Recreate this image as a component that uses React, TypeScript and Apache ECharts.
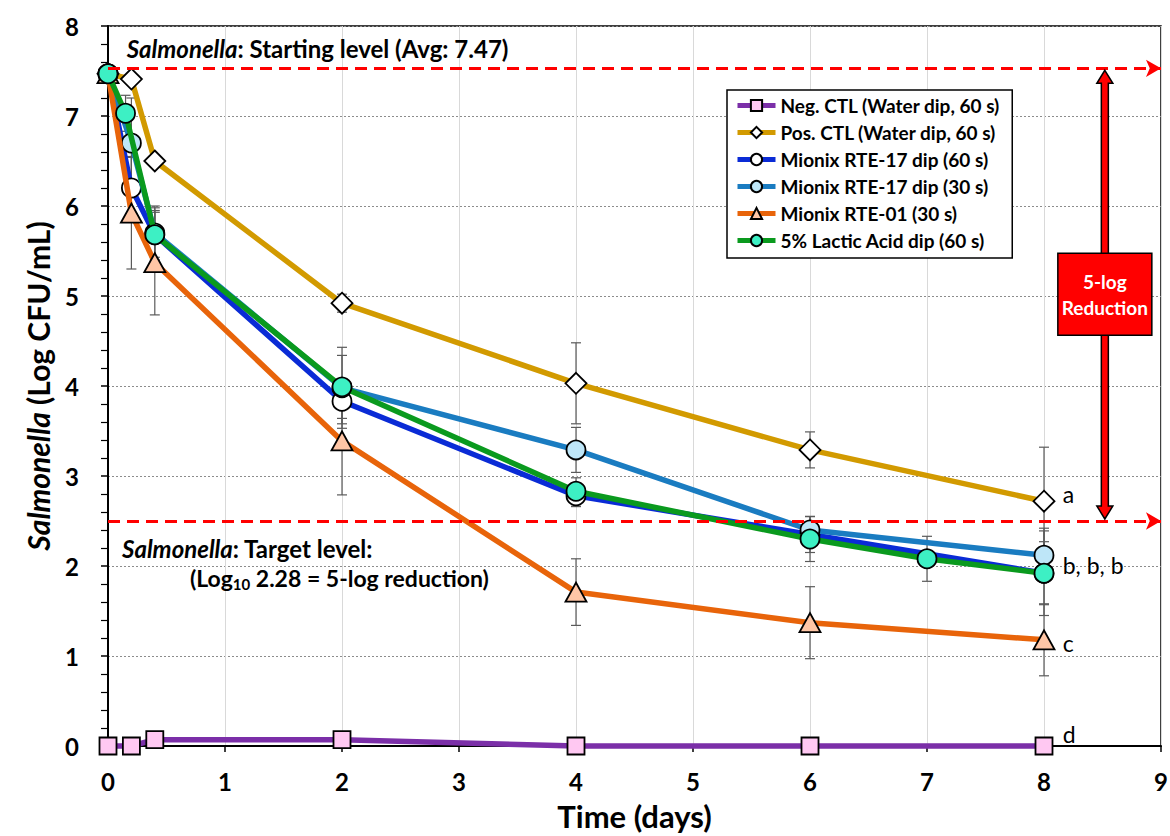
import React, { useEffect, useRef } from "react";
import * as echarts from "echarts";

// ---- data ----
const timeMain = [0, 0.2, 0.4, 2, 4, 6, 8];
const negCtl = [0, 0, 0.07, 0.07, 0, 0, 0];
const negErr = [0, 0, 0, 0, 0, 0, 0];
const posCtl = [7.47, 7.41, 6.5, 4.92, 4.03, 3.29, 2.72];
const posErr = [0, 0.05, 0.05, 0.1, 0.45, 0.2, 0.6];
const rte17s60 = [7.47, 6.2, 5.68, 3.83, 2.78, 2.35, 1.92];
const rte17s60Err = [0, 0.35, 0.3, 0.25, 0.12, 0.2, 0.47];
const rte17s30 = [7.47, 6.7, 5.7, 3.98, 3.29, 2.4, 2.12];
const rte17s30Err = [0, 0.5, 0.3, 0.45, 0.25, 0.15, 0.3];
const rte01 = [7.47, 5.92, 5.37, 3.39, 1.71, 1.37, 1.18];
const rte01Err = [0, 0.62, 0.58, 0.6, 0.37, 0.4, 0.4];
const timeLactic = [0, 0.15, 0.4, 2, 4, 6, 7, 8];
const lactic = [7.47, 7.03, 5.68, 3.99, 2.83, 2.3, 2.08, 1.92];
const lacticErr = [0, 0.2, 0.25, 0.35, 0.15, 0.25, 0.25, 0.35];

const startLevel = 7.53;
const targetLevel = 2.5;
const sigLetters = ["a", "b, b, b", "c", "d"];
const sigLetterY = [2.8, 2.01, 1.14, 0.13];

const FONT = "Lato, 'Open Sans', sans-serif";

type SeriesDef = {
  name: string;
  xs: number[];
  ys: number[];
  err: number[];
  line: string;
  fill: string;
  symbol: string;
  size: number | number[];
};

const seriesDefs: SeriesDef[] = [
  { name: "Neg. CTL (Water dip, 60 s)", xs: timeMain, ys: negCtl, err: negErr, line: "#7B2FA8", fill: "#FFC8F2", symbol: "rect", size: 17 },
  { name: "Pos. CTL (Water dip, 60 s)", xs: timeMain, ys: posCtl, err: posErr, line: "#D29A00", fill: "#FFFFFF", symbol: "diamond", size: 21 },
  { name: "Mionix RTE-17 dip (60 s)", xs: timeMain, ys: rte17s60, err: rte17s60Err, line: "#0A2BD6", fill: "#FFFFFF", symbol: "circle", size: 19 },
  { name: "Mionix RTE-17 dip (30 s)", xs: timeMain, ys: rte17s30, err: rte17s30Err, line: "#1A7CC1", fill: "#BEE6F8", symbol: "circle", size: 19 },
  { name: "Mionix RTE-01 (30 s)", xs: timeMain, ys: rte01, err: rte01Err, line: "#E8640A", fill: "#FFC6A6", symbol: "triangle", size: [21, 19] },
  { name: "5% Lactic Acid dip (60 s)", xs: timeLactic, ys: lactic, err: lacticErr, line: "#0A9A1E", fill: "#3DF0C4", symbol: "circle", size: 19 },
];

export default function App() {
  const ref = useRef<HTMLDivElement>(null);

  useEffect(() => {
    if (!ref.current) return;
    const chart = echarts.init(ref.current, undefined, { renderer: "svg" });

    const errSeries = seriesDefs.map((s) => ({
      type: "custom",
      name: s.name + " err",
      z: 1,
      silent: true,
      clip: false,
      data: s.xs.map((x, i) => [x, s.ys[i], s.err[i]]),
      renderItem: (_p: any, api: any) => {
        const x = api.value(0);
        const y = api.value(1);
        const e = api.value(2);
        if (!e) return null;
        const top = api.coord([x, y + e]);
        const bot = api.coord([x, y - e]);
        const w = 5;
        const st = { stroke: "#5A5A5A", lineWidth: 1.2 };
        return {
          type: "group",
          children: [
            { type: "line", shape: { x1: top[0], y1: top[1], x2: bot[0], y2: bot[1] }, style: st },
            { type: "line", shape: { x1: top[0] - w, y1: top[1], x2: top[0] + w, y2: top[1] }, style: st },
            { type: "line", shape: { x1: bot[0] - w, y1: bot[1], x2: bot[0] + w, y2: bot[1] }, style: st },
          ],
        };
      },
    }));

    const lineSeries = seriesDefs.map((s, k) => ({
      type: "line",
      name: s.name,
      z: 3 + k,
      clip: false,
      data: s.xs.map((x, i) => [x, s.ys[i]]),
      symbol: s.symbol,
      symbolSize: s.size,
      showAllSymbol: true,
      lineStyle: { color: s.line, width: 5.5 },
      itemStyle: { color: s.fill, borderColor: "#000", borderWidth: 1.8 },
      emphasis: { disabled: true },
      ...(k === 0
        ? {
            markLine: {
              silent: true,
              symbol: ["none", "arrow"],
              symbolSize: [13, 15],
              label: { show: false },
              lineStyle: { color: "#FF0000", width: 3, type: [12, 7] },
              data: [{ yAxis: startLevel }, { yAxis: targetLevel }],
              z: 20,
            },
          }
        : {}),
    }));

    const option: any = {
      animation: false,
      backgroundColor: "#fff",
      grid: {
        left: 108,
        top: 26,
        right: 9,
        bottom: 90,
        show: true,
        borderColor: "#000",
        borderWidth: 1.5,
        backgroundColor: "transparent",
        containLabel: false,
        outerBoundsMode: "none",
      },
      legend: {
        data: seriesDefs.map((s) => s.name),
        orient: "vertical",
        left: 727,
        top: 90,
        padding: [6, 12, 8, 8],
        itemGap: 8,
        itemWidth: 38,
        itemHeight: 14,
        borderColor: "#000",
        borderWidth: 1.5,
        backgroundColor: "#fff",
        selectedMode: false,
        lineStyle: { width: 5 },
        textStyle: { fontSize: 19, fontWeight: "bold", color: "#000", fontFamily: FONT },
        z: 30,
      },
      xAxis: {
        type: "value",
        min: 0,
        max: 9,
        interval: 1,
        axisLine: { onZero: false, lineStyle: { color: "#000", width: 2 } },
        axisTick: { show: true, length: 6, lineStyle: { color: "#000", width: 1.5 } },
        axisLabel: { fontSize: 24, fontWeight: "bold", color: "#000", fontFamily: FONT, margin: 23 },
        splitLine: { show: true, lineStyle: { color: "#D9D9D9", width: 1 } },
        name: "Time (days)",
        nameLocation: "middle",
        nameGap: 54,
        nameTextStyle: { fontSize: 31, fontWeight: "bold", color: "#000", fontFamily: FONT },
      },
      yAxis: {
        type: "value",
        min: 0,
        max: 8,
        interval: 1,
        axisLine: { lineStyle: { color: "#000", width: 2 } },
        axisTick: { show: true, length: 7, lineStyle: { color: "#000", width: 1.5 } },
        minorTick: { show: true, splitNumber: 5, length: 7, lineStyle: { color: "#000", width: 1.2 } },
        minorSplitLine: { show: false },
        axisLabel: { fontSize: 24, fontWeight: "bold", color: "#000", fontFamily: FONT, margin: 29 },
        splitLine: { show: true, lineStyle: { color: "#8C8C8C", width: 1, type: [2, 2] } },
        name: "{i|Salmonella} (Log CFU/mL)",
        nameLocation: "middle",
        nameGap: 55,
        nameRotate: 90,
        nameTextStyle: {
          fontSize: 30,
          fontWeight: "bold",
          color: "#000",
          fontFamily: FONT,
          rich: {
            i: { fontSize: 30, fontWeight: "bold", fontStyle: "italic", color: "#000", fontFamily: FONT },
          },
        },
      },
      series: [...errSeries, ...lineSeries],
    };

    chart.setOption(option);

    const px = (x: number, y: number) =>
      chart.convertToPixel({ xAxisIndex: 0, yAxisIndex: 0 }, [x, y]) as number[];

    const txtBase = { fontFamily: FONT, fill: "#000" };
    const graphics: any[] = [];
    const annFont = 24;

    // starting level text
    const pS = px(0.16, 7.75);
    graphics.push({
      type: "text",
      x: pS[0],
      y: pS[1],
      z: 40,
      style: {
        ...txtBase,
        text: "{i|Salmonella}: Starting level (Avg: 7.47)",
        fontSize: annFont,
        fontWeight: "bold",
        verticalAlign: "middle",
        rich: { i: { fontStyle: "italic", fontSize: annFont, fontFamily: FONT, fontWeight: "bold" } },
      },
    });
    // target level text
    const pT = px(0.12, 2.19);
    graphics.push({
      type: "text",
      x: pT[0],
      y: pT[1],
      z: 40,
      style: {
        ...txtBase,
        text: "{i|Salmonella}: Target level:",
        fontSize: annFont,
        fontWeight: "bold",
        verticalAlign: "middle",
        rich: { i: { fontStyle: "italic", fontSize: annFont, fontFamily: FONT, fontWeight: "bold" } },
      },
    });
    const pT2 = px(0.7, 1.87);
    graphics.push({
      type: "text",
      x: pT2[0],
      y: pT2[1],
      z: 40,
      style: {
        ...txtBase,
        text: "{m|(Log}{s|10}{m| 2.28 = 5-log reduction)}",
        verticalAlign: "middle",
        rich: {
          m: { fontSize: 23, fontFamily: FONT, fontWeight: "bold", lineHeight: 28, verticalAlign: "middle" },
          s: { fontSize: 15, fontFamily: FONT, fontWeight: "bold", lineHeight: 14, verticalAlign: "bottom" },
        },
      },
    });

    // significance letters
    sigLetters.forEach((l, i) => {
      const p = px(8.16, sigLetterY[i]);
      graphics.push({
        type: "text",
        x: p[0],
        y: p[1],
        z: 40,
        style: { ...txtBase, text: l, fontSize: 23, verticalAlign: "middle" },
      });
    });

    // double arrow
    const aTop = px(8.52, startLevel);
    const aBot = px(8.52, targetLevel);
    const cx = aTop[0];
    const hw = 8;
    const sw = 3.5;
    const hh = 13;
    const t = aTop[1] + 2;
    const b = aBot[1] - 2;
    graphics.push({
      type: "polygon",
      z: 35,
      shape: {
        points: [
          [cx, t],
          [cx + hw, t + hh],
          [cx + sw, t + hh],
          [cx + sw, b - hh],
          [cx + hw, b - hh],
          [cx, b],
          [cx - hw, b - hh],
          [cx - sw, b - hh],
          [cx - sw, t + hh],
          [cx - hw, t + hh],
        ],
      },
      style: { fill: "#FF0000", stroke: "#000", lineWidth: 1.5 },
    });
    const boxC = px(8.52, 5.02);
    graphics.push({
      type: "rect",
      z: 36,
      shape: { x: boxC[0] - 47, y: boxC[1] - 41, width: 94, height: 82 },
      style: { fill: "#FF0000", stroke: "#000", lineWidth: 1.5 },
    });
    graphics.push({
      type: "text",
      z: 37,
      x: boxC[0],
      y: boxC[1],
      style: {
        text: "5-log\nReduction",
        fill: "#fff",
        fontFamily: FONT,
        fontSize: 19,
        fontWeight: "bold",
        lineHeight: 26,
        align: "center",
        verticalAlign: "middle",
      },
    });

    chart.setOption({ graphic: graphics });

    return () => chart.dispose();
  }, []);

  return (
    <div
      ref={ref}
      style={{ position: "fixed", left: 0, top: 0, width: 1170, height: 836, background: "#fff" }}
    />
  );
}
